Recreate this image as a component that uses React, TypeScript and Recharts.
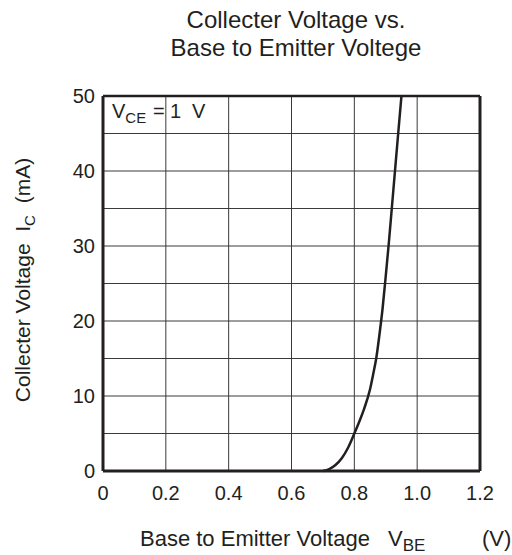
import React from 'react';
import { LineChart, Line, XAxis, YAxis, CartesianGrid, ReferenceLine } from 'recharts';

// Base-emitter voltage (V) and collector current (mA)
const vbe = [0.7, 0.72, 0.74, 0.76, 0.78, 0.8, 0.815, 0.83, 0.85, 0.86, 0.87, 0.88, 0.89, 0.9, 0.91, 0.92, 0.93, 0.94, 0.95];
const ic = [0, 0.25, 0.8, 1.7, 3.1, 5, 6.5, 8.15, 10.9, 12.9, 15.1, 18.2, 21.7, 26, 30.5, 35.4, 40.3, 45.2, 50];

const xTicks = [0, 0.2, 0.4, 0.6, 0.8, 1.0, 1.2];
const yTicks = [0, 5, 10, 15, 20, 25, 30, 35, 40, 45, 50];

const data = vbe.map((v, i) => ({ vbe: v, ic: ic[i] }));

const INK = '#231f20';
const FONT = 'Arial, "Liberation Sans", Helvetica, sans-serif';

const App: React.FC = () => {
  return (
    <div style={{ position: 'absolute', left: 0, top: 0, width: 512, height: 555, background: '#fff', fontFamily: FONT }}>
      <LineChart
        width={512}
        height={555}
        data={data}
        margin={{ top: 96, right: 32, bottom: 54, left: 43 }}
        style={{ fontFamily: FONT }}
      >
        <CartesianGrid stroke="#3a3a3a" strokeWidth={1} />
        <XAxis
          dataKey="vbe"
          type="number"
          domain={[0, 1.2]}
          ticks={xTicks}
          tickFormatter={(v: number) => (v === 0 ? '0' : v.toFixed(1))}
          tickLine={false}
          tickSize={0}
          tickMargin={15}
          height={30}
          axisLine={{ stroke: INK, strokeWidth: 3 }}
          tick={{ fontSize: 20, fill: INK }}
          allowDataOverflow
        />
        <YAxis
          type="number"
          domain={[0, 50]}
          ticks={yTicks}
          tickFormatter={(v: number) => (v % 10 === 0 ? String(v) : '')}
          tickLine={false}
          tickSize={0}
          tickMargin={8}
          width={60}
          axisLine={{ stroke: INK, strokeWidth: 3 }}
          tick={{ fontSize: 20, fill: INK }}
        />
        <ReferenceLine x={1.2} stroke={INK} strokeWidth={3} />
        <ReferenceLine y={50} stroke={INK} strokeWidth={2.5} />
        <Line
          type="monotone"
          dataKey="ic"
          stroke={INK}
          strokeWidth={2.5}
          dot={false}
          isAnimationActive={false}
        />
      </LineChart>

      {/* titles and axis labels */}
      <svg
        width={512}
        height={555}
        style={{ position: 'absolute', left: 0, top: 0, pointerEvents: 'none' }}
        fontFamily={FONT}
        fill={INK}
      >
        <text x={296} y={28} fontSize={24} textAnchor="middle">Collecter Voltage vs.</text>
        <text x={296} y={56} fontSize={24} textAnchor="middle">Base to Emitter Voltege</text>

        <text y={118} fontSize={20}>
          <tspan x={112}>V</tspan>
          <tspan fontSize={15} dy={5}>CE</tspan>
          <tspan x={153} dy={-5}>=</tspan>
          <tspan x={170}>1</tspan>
          <tspan x={192}>V</tspan>
        </text>

        <text y={546} fontSize={22}>
          <tspan x={140}>Base to Emitter Voltage</tspan>
          <tspan x={388}>V</tspan>
          <tspan fontSize={17} dy={5}>BE</tspan>
          <tspan x={482} dy={-5}>(V)</tspan>
        </text>

        <text transform="translate(30 280) rotate(-90)" fontSize={21} textAnchor="middle">
          Collecter Voltage{'\u00a0\u00a0'}I<tspan fontSize={15} dy={5}>C</tspan>
          <tspan dy={-5}>{'\u00a0\u00a0'}(mA)</tspan>
        </text>
      </svg>
    </div>
  );
};

export default App;
